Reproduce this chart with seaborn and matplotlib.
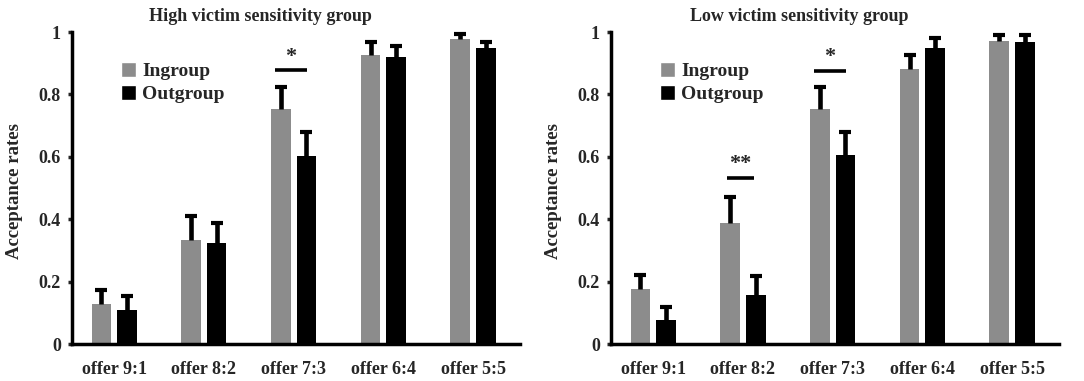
import seaborn as sns
import pandas as pd
import matplotlib.pyplot as plt
from matplotlib.patches import Patch
from matplotlib.ticker import FuncFormatter

offers = ['offer 9:1', 'offer 8:2', 'offer 7:3', 'offer 6:4', 'offer 5:5']
groups = ['Ingroup', 'Outgroup']

# high victim sensitivity
high_in = [0.129, 0.332, 0.753, 0.927, 0.978]
high_out = [0.109, 0.324, 0.602, 0.920, 0.949]
high_in_err = [0.044, 0.077, 0.071, 0.042, 0.017]
high_out_err = [0.045, 0.065, 0.076, 0.036, 0.020]

# low victim sensitivity
low_in = [0.176, 0.388, 0.753, 0.881, 0.970]
low_out = [0.076, 0.156, 0.605, 0.949, 0.967]
low_in_err = [0.046, 0.082, 0.071, 0.046, 0.021]
low_out_err = [0.044, 0.063, 0.075, 0.032, 0.024]

# significance marks: (offer index, label, height of line)
high_sig = [(2, '*', 0.877)]
low_sig = [(1, '**', 0.532), (2, '*', 0.876)]

titles = ['High victim sensitivity group', 'Low victim sensitivity group']

sns.set_style('white')
plt.rcParams['font.family'] = ['Liberation Serif', 'DejaVu Serif']
plt.rcParams['font.weight'] = 'bold'

colors = {'Ingroup': '#8c8c8c', 'Outgroup': '#000000'}

fig = plt.figure(figsize=(10.84, 3.81), dpi=100)
ax1 = fig.add_axes([0.0664, 0.097, 0.413, 0.819])
ax2 = fig.add_axes([0.5637, 0.097, 0.413, 0.819])


def draw(ax, vin, vout, ein, eout, sig, title):
    df = pd.DataFrame({
        'offer': offers * 2,
        'group': ['Ingroup'] * len(offers) + ['Outgroup'] * len(offers),
        'rate': vin + vout,
    })
    sns.barplot(data=df, x='offer', y='rate', hue='group', hue_order=groups,
                palette=colors, width=0.57, gap=0.23, errorbar=None,
                legend=False, ax=ax, linewidth=0)
    # one sided error bars on top of each bar
    for cont, err in zip(ax.containers, [ein, eout]):
        xs = [b.get_x() + b.get_width() / 2 for b in cont]
        hs = [b.get_height() for b in cont]
        eb = ax.errorbar(xs, hs, yerr=[[0] * len(err), err], fmt='none',
                         ecolor='black', elinewidth=3.3, capsize=4, capthick=3,
                         clip_on=False)
        # drop the cap sitting on the bar top
        for cap in eb[1]:
            if list(cap.get_ydata()) == hs:
                cap.set_visible(False)

    for idx, label, h in sig:
        half = 0.18 if label == '*' else 0.15
        cx = idx - 0.03
        ax.plot([cx - half, cx + half], [h, h], color='black', lw=2.6,
                solid_capstyle='butt')
        ax.text(cx, h + 0.012, label, ha='center', va='bottom',
                fontsize=16, fontweight='bold')

    ax.set_xlim(-0.47, 4.52)
    ax.set_ylim(0, 1)
    ax.set_yticks([0, 0.2, 0.4, 0.6, 0.8, 1.0])
    ax.yaxis.set_major_formatter(FuncFormatter(lambda v, p: '{:g}'.format(round(v, 1))))
    ax.set_xlabel('')
    ax.set_ylabel('Acceptance rates', fontsize=13.5, fontweight='bold')
    ax.yaxis.set_label_coords(-0.11, 0.49)
    ax.set_title(title, fontsize=13, fontweight='bold', x=0.42, pad=8)

    sns.despine(ax=ax)
    for s in ['left', 'bottom']:
        ax.spines[s].set_linewidth(2.5)
        ax.spines[s].set_color('black')
    ax.tick_params(axis='y', left=True, length=3, width=2.5, pad=5,
                   labelsize=13)
    ax.tick_params(axis='x', bottom=False, pad=9, labelsize=13)

    handles = [Patch(facecolor=colors[g], label=g) for g in groups]
    ax.legend(handles=handles, loc='upper left', bbox_to_anchor=(0.07, 0.96),
              frameon=False, fontsize=14, handlelength=0.8, handleheight=0.8,
              handletextpad=0.3, labelspacing=0.25)


draw(ax1, high_in, high_out, high_in_err, high_out_err, high_sig, titles[0])
draw(ax2, low_in, low_out, low_in_err, low_out_err, low_sig, titles[1])

fig.savefig('out.png', dpi=100)
